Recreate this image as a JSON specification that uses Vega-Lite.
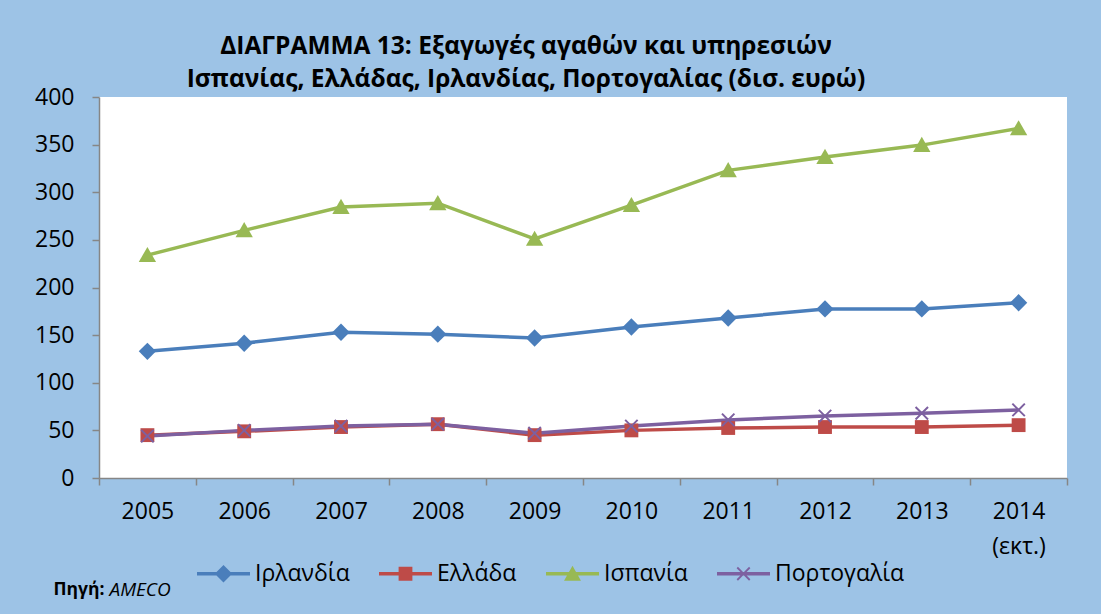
{
  "$schema": "https://vega.github.io/schema/vega-lite/v6.json",
  "width": 968,
  "height": 381,
  "autosize": {"type": "none"},
  "padding": {"left": 99, "top": 97, "right": 34, "bottom": 136},
  "background": "#9DC3E6",
  "config": {
    "font": "Open Sans",
    "view": {"fill": "white", "stroke": null}
  },
  "title": {
    "text": ["ΔΙΑΓΡΑΜΜΑ 13: Εξαγωγές αγαθών και υπηρεσιών", "Ισπανίας, Ελλάδας, Ιρλανδίας, Πορτογαλίας (δισ. ευρώ)"],
    "anchor": "middle",
    "frame": "group",
    "dx": -57,
    "offset": -6,
    "fontSize": 24.5,
    "fontWeight": "bold",
    "font": "Open Sans",
    "color": "black",
    "lineHeight": 33
  },
  "data": {
    "values": [
      {"year": "2005", "country": "Ιρλανδία", "value": 133},
      {"year": "2006", "country": "Ιρλανδία", "value": 141.5},
      {"year": "2007", "country": "Ιρλανδία", "value": 153},
      {"year": "2008", "country": "Ιρλανδία", "value": 151},
      {"year": "2009", "country": "Ιρλανδία", "value": 147},
      {"year": "2010", "country": "Ιρλανδία", "value": 158.5},
      {"year": "2011", "country": "Ιρλανδία", "value": 168},
      {"year": "2012", "country": "Ιρλανδία", "value": 177.5},
      {"year": "2013", "country": "Ιρλανδία", "value": 177.5},
      {"year": "2014", "country": "Ιρλανδία", "value": 184},
      {"year": "2005", "country": "Ελλάδα", "value": 45},
      {"year": "2006", "country": "Ελλάδα", "value": 49},
      {"year": "2007", "country": "Ελλάδα", "value": 53.5},
      {"year": "2008", "country": "Ελλάδα", "value": 56.5},
      {"year": "2009", "country": "Ελλάδα", "value": 45},
      {"year": "2010", "country": "Ελλάδα", "value": 50},
      {"year": "2011", "country": "Ελλάδα", "value": 52.5},
      {"year": "2012", "country": "Ελλάδα", "value": 53.5},
      {"year": "2013", "country": "Ελλάδα", "value": 53.5},
      {"year": "2014", "country": "Ελλάδα", "value": 55.5},
      {"year": "2005", "country": "Ισπανία", "value": 234},
      {"year": "2006", "country": "Ισπανία", "value": 260},
      {"year": "2007", "country": "Ισπανία", "value": 284.5},
      {"year": "2008", "country": "Ισπανία", "value": 288.5},
      {"year": "2009", "country": "Ισπανία", "value": 251},
      {"year": "2010", "country": "Ισπανία", "value": 286.5},
      {"year": "2011", "country": "Ισπανία", "value": 323},
      {"year": "2012", "country": "Ισπανία", "value": 337},
      {"year": "2013", "country": "Ισπανία", "value": 349.5},
      {"year": "2014", "country": "Ισπανία", "value": 367},
      {"year": "2005", "country": "Πορτογαλία", "value": 44},
      {"year": "2006", "country": "Πορτογαλία", "value": 50},
      {"year": "2007", "country": "Πορτογαλία", "value": 54.5},
      {"year": "2008", "country": "Πορτογαλία", "value": 56.5},
      {"year": "2009", "country": "Πορτογαλία", "value": 47},
      {"year": "2010", "country": "Πορτογαλία", "value": 54.5},
      {"year": "2011", "country": "Πορτογαλία", "value": 61},
      {"year": "2012", "country": "Πορτογαλία", "value": 65},
      {"year": "2013", "country": "Πορτογαλία", "value": 68},
      {"year": "2014", "country": "Πορτογαλία", "value": 71.5}
    ]
  },
  "encoding": {
    "x": {
      "field": "year",
      "type": "ordinal",
      "scale": {"type": "band", "paddingInner": 0, "paddingOuter": 0},
      "axis": {
        "title": "AMECO",
        "titleFont": "Open Sans",
        "titleFontStyle": "italic",
        "titleFontWeight": "normal",
        "titleFontSize": 19,
        "titleColor": "black",
        "titleAlign": "left",
        "titleBaseline": "middle",
        "titleX": 10,
        "titleY": 111,
        "labelAngle": 0,
        "labelFontSize": 23,
        "labelColor": "black",
        "labelPadding": 15,
        "labelLineHeight": 35,
        "labelExpr": "datum.value == '2014' ? ['2014', '(εκτ.)'] : datum.value",
        "tickBand": "extent",
        "tickSize": 7,
        "tickColor": "#868686",
        "tickWidth": 1.5,
        "domainColor": "#868686",
        "domainWidth": 1.5,
        "grid": false
      }
    },
    "y": {
      "field": "value",
      "type": "quantitative",
      "scale": {"domain": [0, 400], "nice": false},
      "axis": {
        "title": "Πηγή:",
        "titleFont": "Open Sans",
        "titleFontWeight": "bold",
        "titleFontSize": 17.5,
        "titleColor": "black",
        "titleAngle": 0,
        "titleAlign": "left",
        "titleBaseline": "middle",
        "titleX": -46,
        "titleY": 492,
        "values": [0, 50, 100, 150, 200, 250, 300, 350, 400],
        "labelFontSize": 23,
        "labelColor": "black",
        "labelPadding": 18,
        "tickSize": 7,
        "tickColor": "#868686",
        "tickWidth": 1.5,
        "domainColor": "#868686",
        "domainWidth": 1.5,
        "grid": false
      }
    },
    "color": {
      "field": "country",
      "type": "nominal",
      "sort": ["Ιρλανδία", "Ελλάδα", "Ισπανία", "Πορτογαλία"],
      "scale": {
        "domain": ["Ιρλανδία", "Ελλάδα", "Ισπανία", "Πορτογαλία"],
        "range": ["#4A7EBB", "#BE4B48", "#98B954", "#7D60A0"]
      },
      "legend": null
    }
  },
  "layer": [
    {
      "mark": {"type": "line", "strokeWidth": 3.5},
      "encoding": {
        "color": {
          "field": "country",
          "type": "nominal",
          "sort": ["Ιρλανδία", "Ελλάδα", "Ισπανία", "Πορτογαλία"],
          "legend": {
            "title": null,
            "orient": "none",
            "direction": "horizontal",
            "columns": 4,
            "legendX": 98,
            "legendY": 450,
            "padding": 0,
            "symbolSize": 2809,
            "symbolStrokeWidth": 0,
            "columnPadding": 29,
            "labelOffset": 5,
            "labelFontSize": 23,
            "labelColor": "black",
            "labelFont": "Open Sans",
            "encode": {
              "symbols": {
                "update": {
                  "shape": {"signal": "datum.value == 'Ιρλανδία' ? 'M-1,-0.07H1V0.07H-1Z M0,-0.33L0.33,0L0,0.33L-0.33,0Z' : datum.value == 'Ελλάδα' ? 'M-1,-0.07H1V0.07H-1Z M-0.26,-0.26H0.26V0.26H-0.26Z' : datum.value == 'Ισπανία' ? 'M-1,-0.07H1V0.07H-1Z M0,-0.3L0.32,0.26H-0.32Z' : 'M-1,-0.07H1V0.07H-1Z M0,-0.05L0.21,-0.26L0.26,-0.21L0.05,0L0.26,0.21L0.21,0.26L0,0.05L-0.21,0.26L-0.26,0.21L-0.05,0L-0.26,-0.21L-0.21,-0.26Z'"},
                  "fill": {"signal": "scale('color', datum.value)"},
                  "fillOpacity": {"value": 1},
                  "strokeWidth": {"value": 0}
                }
              }
            }
          }
        }
      }
    },
    {
      "transform": [{"filter": "datum.country == 'Ιρλανδία'"}],
      "mark": {"type": "point", "filled": true, "opacity": 1, "size": 300, "shape": "M0,-1L1,0L0,1L-1,0Z"}
    },
    {
      "transform": [{"filter": "datum.country == 'Ελλάδα'"}],
      "mark": {"type": "point", "filled": true, "opacity": 1, "size": 300, "shape": "M-0.8,-0.8H0.8V0.8H-0.8Z"}
    },
    {
      "transform": [{"filter": "datum.country == 'Ισπανία'"}],
      "mark": {"type": "point", "filled": true, "opacity": 1, "size": 300, "shape": "M0,-0.95L1,0.8H-1Z"}
    },
    {
      "transform": [{"filter": "datum.country == 'Πορτογαλία'"}],
      "mark": {"type": "point", "filled": true, "opacity": 1, "size": 300, "shape": "M0,-0.16L0.64,-0.8L0.8,-0.64L0.16,0L0.8,0.64L0.64,0.8L0,0.16L-0.64,0.8L-0.8,0.64L-0.16,0L-0.8,-0.64L-0.64,-0.8Z"}
    }
  ]
}
